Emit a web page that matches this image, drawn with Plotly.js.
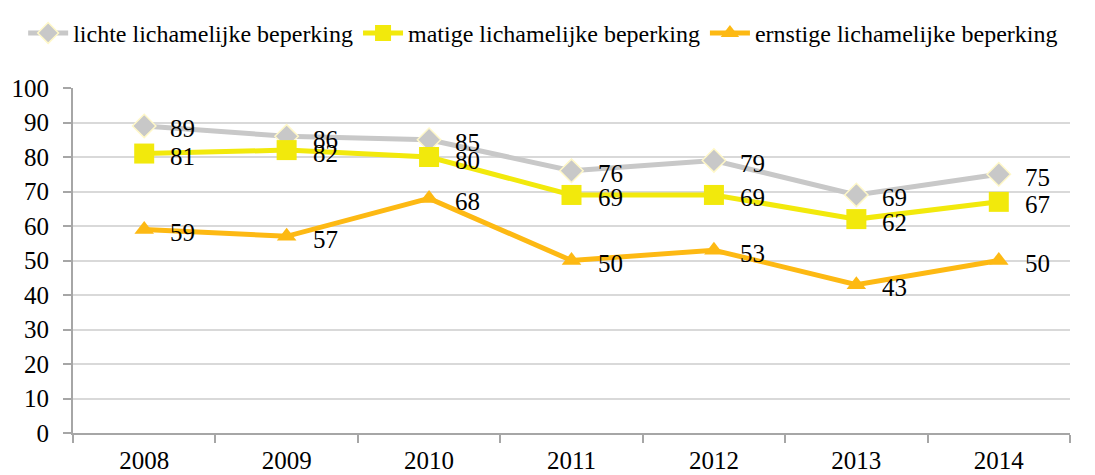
<!DOCTYPE html>
<html>
<head>
<meta charset="utf-8">
<script src="https://cdn.plot.ly/plotly-3.0.1.min.js"></script>
<style>html,body{margin:0;padding:0;background:#fff;}#chart{width:1095px;height:475px;}</style>
</head>
<body>
<div id="chart"></div>
<script>
var years = ["2008", "2009", "2010", "2011", "2012", "2013", "2014"];
var lichte = [89, 86, 85, 76, 79, 69, 75];
var matige = [81, 82, 80, 69, 69, 62, 67];
var ernstige = [59, 57, 68, 50, 53, 43, 50];
var seriesNames = ["lichte lichamelijke beperking", "matige lichamelijke beperking", "ernstige lichamelijke beperking"];
var yTicks = [0, 10, 20, 30, 40, 50, 60, 70, 80, 90, 100];

var FONT = "Liberation Serif";

function mk(name, vals, color, symbol, size, lineColor) {
  return {
    type: "scatter", mode: "lines+markers",
    name: name, x: years, y: vals,
    line: {color: color, width: 5},
    marker: {symbol: symbol, size: size, color: color, line: {color: lineColor || color, width: lineColor ? 1.5 : 0}},
    cliponaxis: false, hoverinfo: "x+y"
  };
}

var data = [
  mk(seriesNames[0], lichte, "#C8C8C8", "diamond", 18, "#FFF8C8"),
  mk(seriesNames[1], matige, "#F2E90C", "square", 20, null),
  mk(seriesNames[2], ernstige, "#FDB913", "triangle-up", 17, null)
];

var annotations = [];
[lichte, matige, ernstige].forEach(function (vals) {
  vals.forEach(function (v, i) {
    annotations.push({x: i, y: v, xref: "x", yref: "y", text: String(v), showarrow: false,
      xanchor: "left", yanchor: "middle", xshift: 24, yshift: -3,
      font: {family: FONT, size: 25, color: "#000"}});
  });
});

var layout = {
  width: 1095, height: 475,
  margin: {l: 73, r: 25, t: 87, b: 42},
  paper_bgcolor: "#fff", plot_bgcolor: "#fff",
  font: {family: FONT, color: "#000"},
  showlegend: true,
  annotations: annotations,
  legend: {orientation: "h", x: -0.05, xanchor: "left", y: 1.22, yanchor: "top", itemwidth: 40,
           font: {family: FONT, size: 24, color: "#000"}, itemclick: false, traceorder: "normal"},
  xaxis: {type: "category", range: [-0.5, 6.5], showgrid: false, showline: true, linecolor: "#A6A6A6", linewidth: 2,
          ticks: "outside", tickson: "boundaries", ticklen: 8, tickcolor: "#A6A6A6", tickwidth: 2,
          tickfont: {family: FONT, size: 25, color: "#000"}, ticklabelstandoff: 4, fixedrange: true},
  yaxis: {range: [0, 100], tickvals: yTicks, showgrid: true, gridcolor: "#D9D9D9", gridwidth: 2,
          showline: true, linecolor: "#A6A6A6", linewidth: 2, zeroline: false,
          ticks: "outside", ticklen: 8, tickcolor: "#A6A6A6", tickwidth: 2,
          tickfont: {family: FONT, size: 25, color: "#000"}, ticklabelstandoff: 9, fixedrange: true}
};

Plotly.newPlot("chart", data, layout, {displayModeBar: false, staticPlot: true});
</script>
</body>
</html>
